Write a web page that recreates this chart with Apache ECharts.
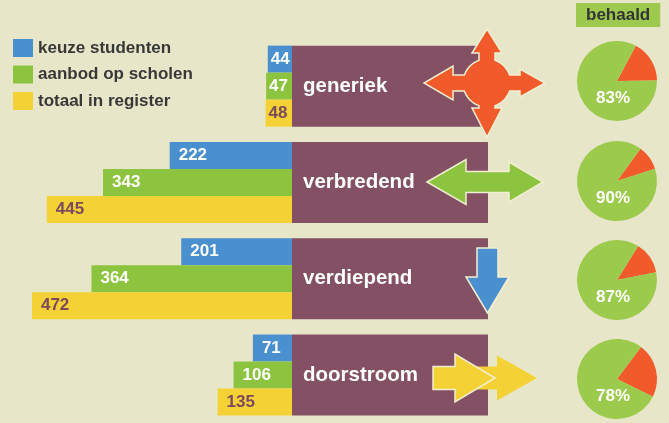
<!DOCTYPE html>
<html>
<head>
<meta charset="utf-8">
<script src="https://cdn.jsdelivr.net/npm/echarts@6/dist/echarts.min.js"></script>
<style>
  html, body { margin: 0; padding: 0; background: #e8e6c8; }
  #myDiv { width: 669px; height: 423px; }
</style>
</head>
<body>
<div id="myDiv"></div>
<script>
// data
const groepen = ['generiek', 'verbredend', 'verdiepend', 'doorstroom'];
const keuzeStudenten = [44, 222, 201, 71];
const aanbodScholen = [47, 343, 364, 106];
const totaalRegister = [48, 445, 472, 135];
const behaald = [83, 90, 87, 78];

const kleuren = {
  blauw: '#4a8fce',
  groen: '#8cc43f',
  geel: '#f4d236',
  paars: '#835064',
  oranje: '#f15a2a',
  taartGroen: '#9cca4c',
  rand: '#f2eed2'
};
const font = 'Liberation Sans, Arial, sans-serif';
const taartY = [81, 181, 280, 379];

let myChart = echarts.init(document.getElementById('myDiv'));

// four-way arrow around a circle
function kruisPijl(cx, cy, r, w, dirs) {
  let pts = [];
  let alpha = Math.asin(w / r);
  let s = Math.sqrt(r * r - w * w);
  dirs.forEach(function (d) {
    let th = d.angle * Math.PI / 180;
    let ux = Math.cos(th), uy = Math.sin(th);
    let px = -uy, py = ux;
    let P = function (a, b) { return [cx + a * ux + b * px, cy + a * uy + b * py]; };
    pts.push(P(s, -w), P(d.b, -w), P(d.b, -d.h), P(d.t, 0), P(d.b, d.h), P(d.b, w), P(s, w));
    let a0 = th + alpha;
    let a1 = th + Math.PI / 2 - alpha;
    for (let k = 1; k < 8; k++) {
      let a = a0 + (a1 - a0) * k / 8;
      pts.push([cx + r * Math.cos(a), cy + r * Math.sin(a)]);
    }
  });
  return pts;
}

function pijlRechts(x0, xb, xt, cy, w, h) {
  return [[x0, cy - w], [xb, cy - w], [xb, cy - h], [xt, cy], [xb, cy + h], [xb, cy + w], [x0, cy + w]];
}

// short bars get their label closer to the edge
function metLabel(arr) {
  return arr.map(function (v) {
    return { value: v, label: { distance: v < 60 ? 3 : 9 } };
  });
}

let pies = behaald.map(function (b, i) {
  return {
    type: 'pie',
    center: [617, taartY[i]],
    radius: 40,
    startAngle: [62, 54, 58, 53][i],
    silent: true,
    animation: false,
    itemStyle: { borderWidth: 0 },
    label: { show: false },
    labelLine: { show: false },
    data: [
      { value: 100 - b, name: 'niet', itemStyle: { color: kleuren.oranje } },
      { value: b, name: 'behaald', itemStyle: { color: kleuren.taartGroen } }
    ]
  };
});

let procentTekst = behaald.map(function (b, i) {
  return {
    type: 'text', z: 100,
    x: 613, y: taartY[i] + 17,
    style: {
      text: b + '%', fill: '#fff', align: 'center', verticalAlign: 'middle',
      font: 'bold 17px ' + font
    }
  };
});

let waardeLabel = function (kleur) {
  return {
    show: true, position: 'insideLeft', distance: 9, color: kleur,
    fontFamily: font, fontWeight: 'bold', fontSize: 17
  };
};

let option = {
  backgroundColor: '#e8e6c8',
  animation: false,
  title: {
    text: 'behaald',
    left: 576, top: 3,
    backgroundColor: '#9dca4e',
    padding: [3, 10, 2, 10],
    textStyle: { fontFamily: font, fontWeight: 'bold', fontSize: 17, color: '#333', lineHeight: 19 }
  },
  legend: {
    orient: 'vertical', left: 13, top: 39, padding: 0,
    icon: 'rect', itemWidth: 20, itemHeight: 18, itemGap: 8.5,
    selectedMode: false,
    textStyle: { fontFamily: font, fontWeight: 'bold', fontSize: 17, color: '#383838' },
    data: ['keuze studenten', 'aanbod op scholen', 'totaal in register']
  },
  grid: [
    { left: 0, width: 292, top: 38, height: 388 },
    { left: 292, width: 196, top: 38, height: 388 }
  ],
  xAxis: [
    { gridIndex: 0, type: 'value', inverse: true, min: 0, max: 530, show: false },
    { gridIndex: 1, type: 'value', min: 0, max: 1, show: false }
  ],
  yAxis: [
    { gridIndex: 0, type: 'category', inverse: true, data: groepen, show: false },
    { gridIndex: 1, type: 'category', inverse: true, data: groepen, show: false }
  ],
  series: [
    {
      name: 'vak', type: 'bar', xAxisIndex: 1, yAxisIndex: 1, barWidth: 81, silent: true,
      itemStyle: { color: kleuren.paars },
      label: {
        show: true, position: 'insideLeft', distance: 11, formatter: '{b}', color: '#fff',
        fontFamily: font, fontWeight: 'bold', fontSize: 20.5
      },
      data: groepen.map(function () { return 1; })
    },
    {
      name: 'keuze studenten', type: 'bar', barWidth: 27, barGap: '0%',
      itemStyle: { color: kleuren.blauw }, label: waardeLabel('#fff'), data: metLabel(keuzeStudenten)
    },
    {
      name: 'aanbod op scholen', type: 'bar', barWidth: 27, barGap: '0%',
      itemStyle: { color: kleuren.groen }, label: waardeLabel('#fff'), data: metLabel(aanbodScholen)
    },
    {
      name: 'totaal in register', type: 'bar', barWidth: 27, barGap: '0%',
      itemStyle: { color: kleuren.geel }, label: waardeLabel('#7c4a5c'), data: metLabel(totaalRegister)
    }
  ].concat(pies),
  graphic: [
    {
      type: 'polygon', z: 100,
      shape: {
        points: kruisPijl(487, 83, 24, 8, [
          { angle: 0, b: 33, t: 58, h: 14 },
          { angle: 90, b: 25, t: 54, h: 15 },
          { angle: 180, b: 34, t: 63, h: 17 },
          { angle: 270, b: 30, t: 54, h: 15 }
        ])
      },
      style: { fill: kleuren.oranje, stroke: kleuren.rand, lineWidth: 1.5 }
    },
    {
      type: 'polygon', z: 100,
      shape: {
        points: [[427, 182], [466, 159.5], [466, 171.5], [509, 171.5], [509, 162], [543, 182],
          [509, 202], [509, 192.5], [466, 192.5], [466, 204.5]]
      },
      style: { fill: kleuren.groen, stroke: kleuren.rand, lineWidth: 1.5 }
    },
    {
      type: 'polygon', z: 100,
      shape: {
        points: [[477, 248], [498, 248], [498, 277], [509, 277], [487.5, 313], [466, 277], [477, 277]]
      },
      style: { fill: kleuren.blauw, stroke: kleuren.rand, lineWidth: 1.5 }
    },
    {
      type: 'polygon', z: 100,
      shape: { points: pijlRechts(470, 497, 537, 378, 11.5, 22.5) },
      style: { fill: kleuren.geel }
    },
    {
      type: 'polygon', z: 101,
      shape: { points: pijlRechts(433, 455, 495, 378, 11.5, 24) },
      style: { fill: kleuren.geel, stroke: kleuren.rand, lineWidth: 1.5 }
    }
  ].concat(procentTekst)
};

option && myChart.setOption(option);
</script>
</body>
</html>
